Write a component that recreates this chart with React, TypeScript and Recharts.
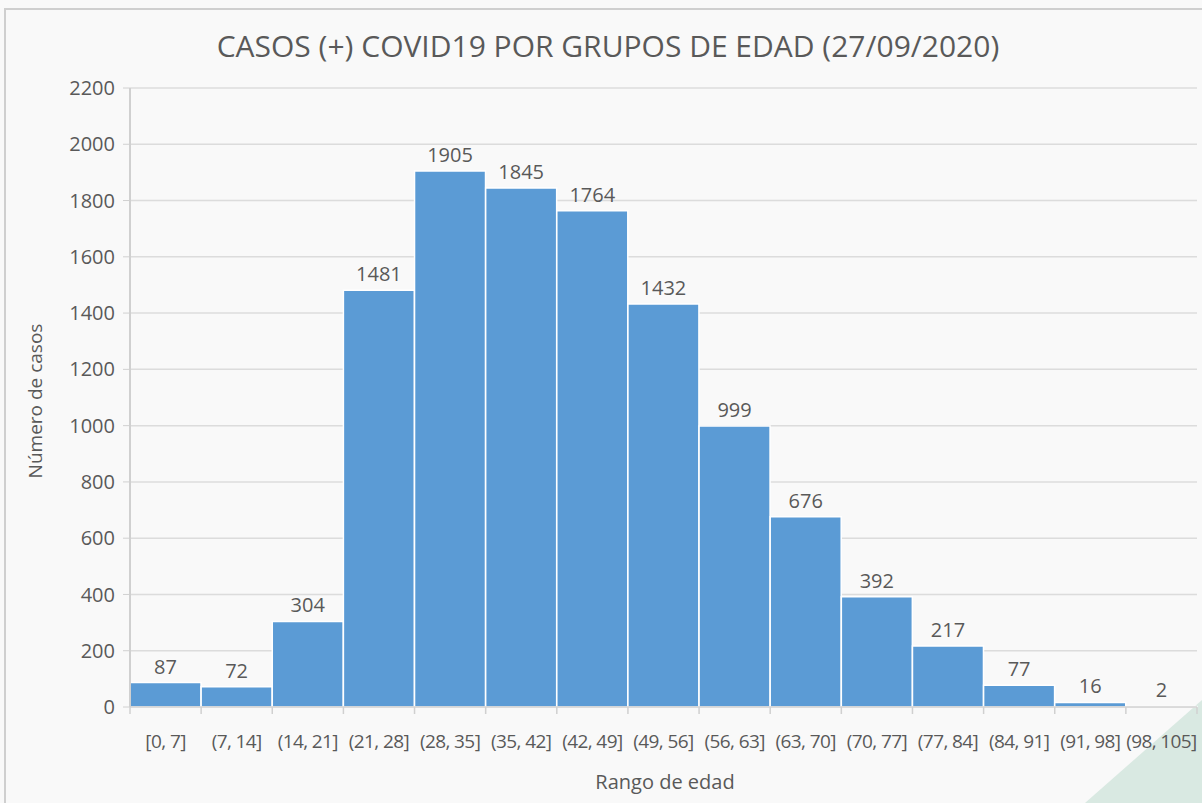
import React from "react";
import { BarChart, Bar, XAxis, YAxis, CartesianGrid, LabelList } from "recharts";

const categories = ["[0, 7]", "(7, 14]", "(14, 21]", "(21, 28]", "(28, 35]", "(35, 42]", "(42, 49]", "(49, 56]", "(56, 63]", "(63, 70]", "(70, 77]", "(77, 84]", "(84, 91]", "(91, 98]", "(98, 105]"];
const casos = [87, 72, 304, 1481, 1905, 1845, 1764, 1432, 999, 676, 392, 217, 77, 16, 2];
const yTicks = [0, 200, 400, 600, 800, 1000, 1200, 1400, 1600, 1800, 2000, 2200];

const data = categories.map((c, i) => ({ rango: c, casos: casos[i] }));

const FONT = "'Open Sans', 'Noto Sans', sans-serif";
const TXT = "#595959";
const n = categories.length;

const XTick = (props: any) => {
  const { x, y, payload, index } = props;
  const bw = (1197 - 130) / n;
  const left = x - bw / 2;
  return (
    <g>
      <line x1={left} y1={y - 8} x2={left} y2={y - 1} stroke="#d0d0d0" strokeWidth={1.5} />
      {index === n - 1 && <line x1={left + bw} y1={y - 8} x2={left + bw} y2={y - 1} stroke="#d0d0d0" strokeWidth={1.5} />}
      <text x={x} y={y + 33} textAnchor="middle" fill={TXT} fontSize={19} fontFamily={FONT} style={{ letterSpacing: "-0.6px" }}>
        {payload.value}
      </text>
    </g>
  );
};

export default function App() {
  return (
    <div style={{ position: "absolute", left: 0, top: 0, width: 1202, height: 803, background: "#f9f9f9", overflow: "hidden" }}>
      <div style={{ position: "absolute", left: 4, top: 8, width: 1300, height: 900, borderLeft: "2px solid #cfcfcf", borderTop: "2px solid #cfcfcf" }} />
      <svg style={{ position: "absolute", left: 0, top: 0 }} width={1202} height={803}>
        <polygon points="1085,803 1202,700 1202,803" fill="#d9e9e2" />
      </svg>
      <div style={{ position: "absolute", left: 0, top: 0 }}>
        <BarChart width={1202} height={803} data={data} margin={{ top: 88, right: 5, bottom: 66, left: 0 }} barCategoryGap={0}>
          <CartesianGrid vertical={false} stroke="#dcdcdc" strokeWidth={1.5} />
          <XAxis dataKey="rango" height={30} tick={<XTick />} tickLine={false} axisLine={{ stroke: "#d0d0d0", strokeWidth: 1.5 }} interval={0} />
          <YAxis width={130} domain={[0, 2200]} ticks={yTicks} interval={0} tickLine={{ stroke: "#d0d0d0" }} tickSize={7} tickMargin={8} axisLine={{ stroke: "#d0d0d0", strokeWidth: 2 }} tick={{ fill: TXT, fontSize: 20, fontFamily: FONT }} />
          <YAxis yAxisId="r" orientation="right" width={0} tick={false} tickLine={false} axisLine={{ stroke: "#dcdcdc", strokeWidth: 1.5 }} />
          <Bar dataKey="casos" fill="#5b9bd5" stroke="#ffffff" strokeWidth={1.5} isAnimationActive={false}>
            <LabelList dataKey="casos" position="top" offset={9} fill={TXT} fontSize={20} fontFamily={FONT} />
          </Bar>
          <text x={608} y={57} textAnchor="middle" fill={TXT} fontSize={30} fontFamily={FONT}>
            CASOS (+) COVID19 POR GRUPOS DE EDAD (27/09/2020)
          </text>
          <text x={665} y={789} textAnchor="middle" fill={TXT} fontSize={20} fontFamily={FONT}>
            Rango de edad
          </text>
          <text x={0} y={0} transform="translate(42, 401) rotate(-90)" textAnchor="middle" fill={TXT} fontSize={19} fontFamily={FONT}>
            Número de casos
          </text>
        </BarChart>
      </div>
    </div>
  );
}
